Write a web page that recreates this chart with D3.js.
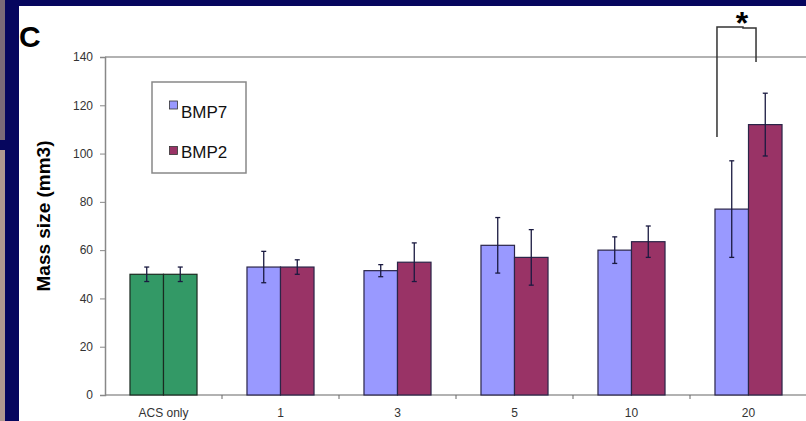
<!doctype html>
<html>
    <head>
        <style>
            body {margin:0; background:#06065e;}
            svg {display:block; font-family:"Liberation Sans", Arial, sans-serif;}
            .tick text {fill:#333; font-size:12px;}
        </style>
        <script src="https://d3js.org/d3.v7.min.js"></script>
    </head>
    <body>
        <script>
            // data
            var categories = ["ACS only", "1", "3", "5", "10", "20"];
            var series = ["BMP7", "BMP2"];
            var bmp7 = [50, 53, 51.5, 62, 60, 77];
            var bmp7Err = [3, 6.5, 2.5, 11.5, 5.5, 20];
            var bmp2 = [50, 53, 55, 57, 63.5, 112];
            var bmp2Err = [3, 3, 8, 11.5, 6.5, 13];
            var yTicks = [0, 20, 40, 60, 80, 100, 120, 140];

            var colors = {BMP7:"#9999ff", BMP2:"#993366"};
            var acsColor = "#339966";

            var W = 806, H = 421;
            var svg = d3.select("body").append("svg").attr("width", W).attr("height", H);

            // slide frame
            svg.append("rect").attr("width", W).attr("height", H).attr("fill", "#06065e");
            svg.append("rect").attr("x", 0).attr("y", 150).attr("width", 5).attr("height", H - 150).attr("fill", "#b09890");
            svg.append("rect").attr("x", 0).attr("y", 0).attr("width", 5).attr("height", 140).attr("fill", "#7a6a78");
            svg.append("rect").attr("x", 19).attr("y", 6).attr("width", W - 19).attr("height", H - 6).attr("fill", "#fff");

            var x0 = d3.scaleBand().domain(categories).range([105, 807]).paddingInner(0.427).paddingOuter(0.2135);
            var x1 = d3.scaleBand().domain(series).range([0, x0.bandwidth()]);
            var y = d3.scaleLinear().domain([0, 140]).range([395, 57]);

            // plot frame
            svg.append("line").attr("x1", 105).attr("x2", W).attr("y1", y(140)).attr("y2", y(140))
                .attr("stroke", "#999").attr("stroke-width", 1.5);
            svg.append("line").attr("x1", 105).attr("x2", W).attr("y1", y(0)).attr("y2", y(0))
                .attr("stroke", "#999").attr("stroke-width", 1.5);

            // y axis
            var yAxis = svg.append("g").attr("transform", "translate(105,0)")
                .call(d3.axisLeft(y).tickValues(yTicks).tickSize(5).tickPadding(7));
            yAxis.select(".domain").attr("stroke", "#888").attr("stroke-width", 1.5);
            yAxis.selectAll(".tick line").attr("stroke", "#888");

            // x axis labels + group boundary ticks
            var xAxis = svg.append("g").attr("transform", "translate(0," + y(0) + ")")
                .call(d3.axisBottom(x0).tickSize(0).tickPadding(13));
            xAxis.select(".domain").remove();
            svg.append("g").selectAll("line").data(categories.slice(1)).enter().append("line")
                .attr("x1", function(d){return x0(d) - x0.step()*x0.paddingInner()/2;})
                .attr("x2", function(d){return x0(d) - x0.step()*x0.paddingInner()/2;})
                .attr("y1", y(0)).attr("y2", y(0) + 4)
                .attr("stroke", "#666");

            // bars
            var rows = [];
            categories.forEach(function(c, i){
                rows.push({cat:c, s:"BMP7", v:bmp7[i], e:bmp7Err[i], i:i});
                rows.push({cat:c, s:"BMP2", v:bmp2[i], e:bmp2Err[i], i:i});
            });

            svg.append("g").selectAll("rect").data(rows).enter().append("rect")
                .attr("x", function(d){return x0(d.cat) + x1(d.s);})
                .attr("y", function(d){return y(d.v);})
                .attr("width", x1.bandwidth())
                .attr("height", function(d){return y(0) - y(d.v);})
                .attr("fill", function(d){return d.i == 0 ? acsColor : colors[d.s];})
                .attr("stroke", function(d){return d.i == 0 ? "#1a2a20" : "#2a2548";})
                .attr("stroke-width", 1.2);

            // error bars
            var eb = svg.append("g").selectAll("g").data(rows).enter().append("g")
                .attr("stroke", "#1a1a40").attr("stroke-width", 1.3);
            eb.append("line")
                .attr("x1", function(d){return x0(d.cat) + x1(d.s) + x1.bandwidth()/2;})
                .attr("x2", function(d){return x0(d.cat) + x1(d.s) + x1.bandwidth()/2;})
                .attr("y1", function(d){return y(d.v + d.e);})
                .attr("y2", function(d){return y(d.v - d.e);});
            [1, -1].forEach(function(sign){
                eb.append("line")
                    .attr("x1", function(d){return x0(d.cat) + x1(d.s) + x1.bandwidth()/2 - 2.5;})
                    .attr("x2", function(d){return x0(d.cat) + x1(d.s) + x1.bandwidth()/2 + 2.5;})
                    .attr("y1", function(d){return y(d.v + sign*d.e);})
                    .attr("y2", function(d){return y(d.v + sign*d.e);});
            });

            // significance bracket on the "20" group
            var gx = x0("20");
            var lx = gx + 2, rx = gx + x0.bandwidth() - 26;
            svg.append("path")
                .attr("d", "M" + lx + "," + 137 + "V27H" + (lx + 26) + "V28H" + rx + "V62")
                .attr("fill", "none").attr("stroke", "#333").attr("stroke-width", 1.5);
            svg.append("text").attr("x", lx + 25).attr("y", 34)
                .attr("text-anchor", "middle").attr("font-size", 32).attr("font-weight", "bold")
                .text("*");

            // legend
            var leg = svg.append("g");
            leg.append("rect").attr("x", 152).attr("y", 82).attr("width", 94).attr("height", 91)
                .attr("fill", "#fff").attr("stroke", "#888").attr("stroke-width", 1.5);
            series.forEach(function(s, i){
                leg.append("rect").attr("x", 169.5).attr("y", 101 + i*45.5).attr("width", 8).attr("height", 8)
                    .attr("fill", colors[s]).attr("stroke", "#333").attr("stroke-width", 0.8);
                leg.append("text").attr("x", 181).attr("y", 117.5 + i*40).attr("font-size", 17)
                    .attr("fill", "#111").text(s);
            });

            // panel letter and axis title
            svg.append("text").attr("x", 19).attr("y", 47).attr("font-size", 30).attr("font-weight", "bold")
                .text("C");
            svg.append("text").attr("transform", "translate(50,216) rotate(-90)")
                .attr("text-anchor", "middle").attr("font-size", 19).attr("font-weight", "bold")
                .text("Mass size (mm3)");
        </script>
    </body>
</html>
